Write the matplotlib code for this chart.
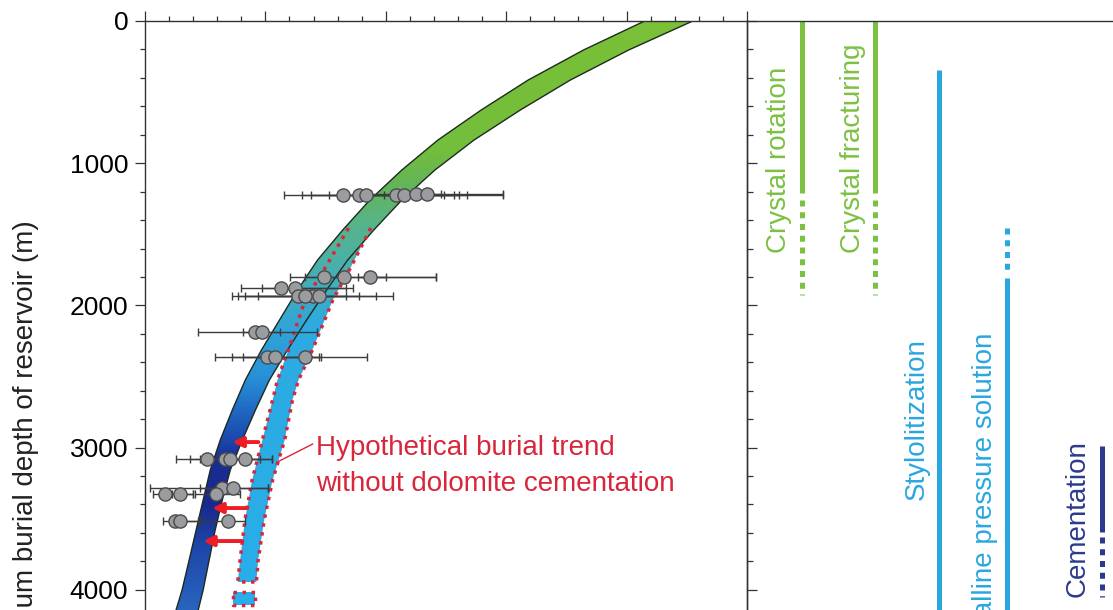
import numpy as np
import matplotlib.pyplot as plt
from matplotlib.colors import LinearSegmentedColormap
from matplotlib.patches import Polygon

plt.rcParams['font.family'] = ['Liberation Sans', 'DejaVu Sans']

# burial trend band (observed), depth in m and left/right edge
band_depth = [0, 204, 415, 626, 837, 1048, 1259, 1470, 1681, 1892, 2103, 2314,
              2525, 2736, 2947, 3158, 3369, 3579, 3790, 4001, 4142, 4353]
band_left = [41.5, 36.42, 31.83, 27.92, 24.33, 21.33, 18.67, 16.42, 14.33, 12.67, 11.17, 9.67,
             8.33, 7.25, 6.25, 5.42, 4.83, 4.25, 3.67, 3.08, 2.58, 2.08]
band_right = [45.5, 40.17, 35.33, 31.17, 27.33, 24.08, 21.33, 19.0, 16.83, 15.08, 13.42, 11.83,
              10.33, 9.17, 8.08, 7.08, 6.42, 5.83, 5.33, 4.83, 4.42, 3.92]

# hypothetical trend without dolomite cementation
hyp_depth = [1456, 1730, 1962, 2314, 2525, 2665, 2947, 3228, 3509, 3790, 3945]
hyp_left = [16.9, 15.0, 13.3, 11.9, 11.0, 10.6, 9.75, 8.9, 8.3, 7.9, 7.7]
hyp_right = [18.75, 17.1, 15.6, 13.9, 12.75, 12.25, 11.6, 10.6, 9.9, 9.4, 9.25]
hyp_tail_depth = [4015, 4107]
hyp_tail_x = [7.33, 9.17]

# samples: depth, value, error bar ends
pt_depth = [1224, 1224, 1224, 1224, 1224, 1215, 1215,
            1800, 1800, 1800,
            1878, 1878,
            1934, 1934, 1934, 1934,
            2185, 2185,
            2363, 2363, 2363,
            3082, 3082, 3082, 3082,
            3284, 3284,
            3326, 3326, 3326,
            3516, 3516, 3516]
pt_x = [16.42, 17.75, 18.33, 20.83, 21.5, 22.5, 23.42,
        14.83, 16.5, 18.67,
        11.33, 12.42,
        12.67, 13.92, 14.42, 13.33,
        9.17, 9.75,
        10.17, 10.83, 13.33,
        5.17, 6.67, 7.08, 8.33,
        6.42, 7.33,
        1.67, 2.92, 5.92,
        2.5, 2.92, 6.92]
pt_lo = [11.58, 13.08, 13.75, 15.25, 19.83, 18.75, 21.25,
         12.08, 13.33, 17.67,
         8.0, 9.75,
         7.25, 7.75, 9.42, 8.33,
         4.42, 8.17,
         5.83, 7.25, 8.17,
         2.58, 3.75, 4.58, 5.42,
         0.42, 4.58,
         0.67, 2.25, 4.17,
         1.5, 2.08, 4.58]
pt_hi = [24.83, 26.75, 25.67, 29.75, 26.08, 24.58, 29.75,
         20.0, 24.17, 24.17,
         17.25, 16.67,
         20.58, 17.75, 16.67, 19.17,
         14.25, 11.25,
         14.58, 18.42, 14.42,
         10.58, 8.75, 9.58, 10.58,
         10.25, 10.25,
         4.0, 4.0, 7.92,
         4.42, 4.58, 8.33]

# red shift arrows
arrow_depth = [2961, 3425, 3657]
arrow_from = [9.42, 8.5, 8.08]
arrow_to = [7.25, 5.58, 4.83]

# diagenetic processes (right panel)
proc_names = ['Crystal rotation', 'Crystal fracturing', 'Stylolitization',
              'Intercrystalline pressure solution', 'Cementation']
solid_top = [0, 0, 345, 1807, 2989]
solid_bot = [1210, 1210, 4300, 4300, 3594]
dot_top = [1259, 1259, None, 1456, 3629]
dot_bot = [1927, 1927, None, 1765, 4051]
label_depth = [1632, 1632, 3368, 2194, 4051]

proc_colors = ['#7cc142', '#7cc142', '#2aa7df', '#2aa7df', '#2b3a8f']
lane_x = [55, 128, 192, 260, 355]
text_x = [32, 106, 170, 238, 331]
text_va = ['bottom', 'bottom', 'bottom', 'top', 'bottom']

red = '#d9263b'
D_MAX = 4353

fig = plt.figure(figsize=(11.13, 6.10), dpi=100)
ax = fig.add_axes([145/1113, 0, 602/1113, 1 - 21/610])

main_cmap = LinearSegmentedColormap.from_list('main', [
    (0 / D_MAX, (122/255, 192/255, 55/255)),
    (900 / D_MAX, (115/255, 190/255, 60/255)),
    (1150 / D_MAX, (100/255, 180/255, 90/255)),
    (1450 / D_MAX, (85/255, 180/255, 140/255)),
    (1800 / D_MAX, (70/255, 175/255, 180/255)),
    (2150 / D_MAX, (50/255, 165/255, 215/255)),
    (2500 / D_MAX, (40/255, 145/255, 215/255)),
    (2800 / D_MAX, (30/255, 95/255, 190/255)),
    (3100 / D_MAX, (25/255, 45/255, 150/255)),
    (3400 / D_MAX, (25/255, 40/255, 140/255)),
    (3700 / D_MAX, (30/255, 70/255, 170/255)),
    (1.0, (45/255, 115/255, 200/255)),
])
hyp_cmap = LinearSegmentedColormap.from_list('hyp', [
    (0, (85/255, 180/255, 140/255)),
    (1450 / D_MAX, (85/255, 180/255, 140/255)),
    (1800 / D_MAX, (70/255, 175/255, 185/255)),
    (2150 / D_MAX, (45/255, 170/255, 225/255)),
    (1.0, (40/255, 175/255, 235/255)),
])
grad = np.linspace(0, 1, 500).reshape(-1, 1)

# hypothetical band fill
hyp_verts = list(zip(hyp_left, hyp_depth)) + list(zip(hyp_right[::-1], hyp_depth[::-1]))
hyp_patch = Polygon(hyp_verts, closed=True, facecolor='none', edgecolor='none')
ax.add_patch(hyp_patch)
im2 = ax.imshow(grad, cmap=hyp_cmap, aspect='auto', extent=[0, 50, D_MAX, 0], zorder=1)
im2.set_clip_path(hyp_patch)
ax.fill_between(hyp_tail_x, hyp_tail_depth[0], hyp_tail_depth[1], color=(40/255, 175/255, 235/255), lw=0, zorder=1)

# observed band
band_verts = list(zip(band_left, band_depth)) + list(zip(band_right[::-1], band_depth[::-1]))
band_patch = Polygon(band_verts, closed=True, facecolor='none', edgecolor='#1d2a1d', lw=1.0, zorder=2.1)
ax.add_patch(band_patch)
im = ax.imshow(grad, cmap=main_cmap, aspect='auto', extent=[0, 50, D_MAX, 0], zorder=2)
im.set_clip_path(band_patch)

# red dotted outline of hypothetical band
dots = dict(color=red, lw=2.5, ls=(0, (1, 1.6)), dash_capstyle='butt', zorder=3)
ax.plot(hyp_left + hyp_right[::-1][:1], hyp_depth + hyp_depth[-1:], **dots)
ax.plot(hyp_right, hyp_depth, **dots)
tx = [hyp_tail_x[0], hyp_tail_x[1], hyp_tail_x[1], hyp_tail_x[0], hyp_tail_x[0]]
td = [hyp_tail_depth[0], hyp_tail_depth[0], hyp_tail_depth[1], hyp_tail_depth[1], hyp_tail_depth[0]]
ax.plot(tx, td, **dots)

# data points
x = np.array(pt_x)
ax.errorbar(x, pt_depth, xerr=[x - np.array(pt_lo), np.array(pt_hi) - x], fmt='none',
            ecolor='#3c3c3c', elinewidth=1.0, capsize=3, capthick=1.0, zorder=4)
ax.scatter(x, pt_depth, s=90, c='#9b9ca0', edgecolors='#4a4a4a', linewidths=1.0, zorder=5)

for d, x0, x1 in zip(arrow_depth, arrow_from, arrow_to):
    ax.annotate('', xy=(x1, d), xytext=(x0, d),
                arrowprops=dict(arrowstyle='-|>', color='#ee1c24', lw=2.8, mutation_scale=15,
                                shrinkA=0, shrinkB=0), zorder=6)

ax.plot([11.0, 13.92], [3101, 2975], color=red, lw=1.0, zorder=6)
ax.text(14.17, 3129, 'Hypothetical burial trend\nwithout dolomite cementation',
        color=red, fontsize=20, ha='left', va='center', linespacing=1.5, zorder=6)

ax.set_xlim(0, 50)
ax.set_ylim(4142, 0)
ax.xaxis.tick_top()
ax.set_xticks(np.arange(0, 51, 10))
ax.set_xticks(np.arange(0, 51, 2), minor=True)
ax.set_yticks([0, 1000, 2000, 3000, 4000])
ax.set_yticks(np.arange(0, 4200, 200), minor=True)
ax.tick_params(axis='x', which='both', direction='out', top=True, bottom=False,
               labeltop=False, labelbottom=False, width=0.9, color='#333333')
ax.tick_params(axis='x', which='major', length=7)
ax.tick_params(axis='x', which='minor', length=3.5)
ax.tick_params(axis='y', which='both', direction='out', width=0.9, color='#333333',
               labelsize=19, pad=5)
ax.tick_params(axis='y', which='major', length=7)
ax.tick_params(axis='y', which='minor', length=3.5)
ax.spines['bottom'].set_visible(False)
for s in ['top', 'left', 'right']:
    ax.spines[s].set_color('#333333')
    ax.spines[s].set_linewidth(1.0)

fig.text(26/1113, 1 - 220/610, 'Maximum burial depth of reservoir (m)', rotation=90,
         ha='center', va='top', fontsize=20, color='#222222')

# right panel
ax2 = fig.add_axes([747/1113, 0, 366/1113, 1 - 21/610])
ax2.set_xlim(0, 366)
ax2.set_ylim(4142, 0)
ax2.set_xticks([])
ax2.set_yticks([0, 1000, 2000, 3000, 4000])
ax2.set_yticks(np.arange(0, 4200, 200), minor=True)
ax2.tick_params(axis='y', which='both', direction='in', labelleft=False, width=0.9, color='#333333')
ax2.tick_params(axis='y', which='major', length=7)
ax2.tick_params(axis='y', which='minor', length=4)
ax2.spines['bottom'].set_visible(False)
ax2.spines['right'].set_visible(False)
for s in ['top', 'left']:
    ax2.spines[s].set_color('#333333')
    ax2.spines[s].set_linewidth(1.0)
ax2.patch.set_alpha(0)

for i, name in enumerate(proc_names):
    c = proc_colors[i]
    lx = lane_x[i]
    ax2.plot([lx, lx], [solid_top[i], solid_bot[i]], color=c, lw=3.6, solid_capstyle='butt')
    if dot_top[i] is not None:
        ax2.plot([lx, lx], [dot_top[i], dot_bot[i]], color=c, lw=3.6,
                 ls=(0, (1.2, 1.15)), dash_capstyle='butt')
    ax2.text(text_x[i], label_depth[i], name, rotation=90, color=c, fontsize=20,
             ha='center', va=text_va[i])

fig.savefig('out.png', dpi=100)
